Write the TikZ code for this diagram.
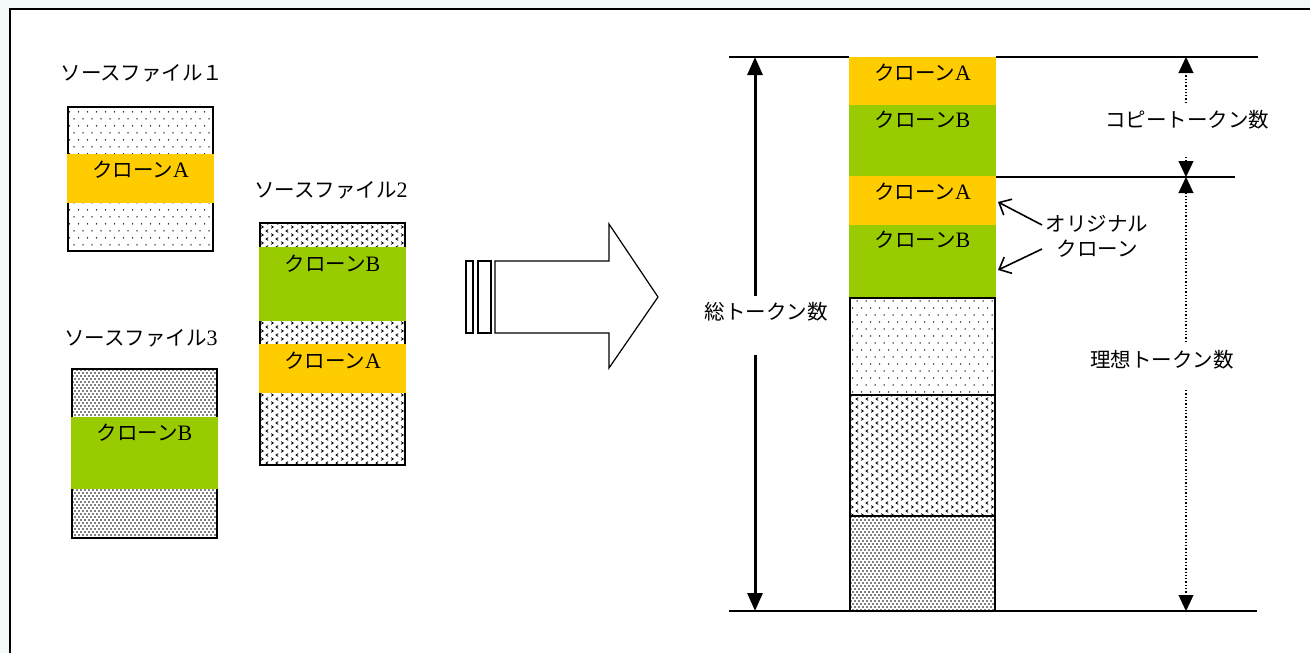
\documentclass[tikz,border=0pt]{standalone}
\usepackage{fontspec}
\setmainfont{Liberation Serif}
\newfontfamily\jp{Noto Sans CJK JP}
\usetikzlibrary{arrows.meta,patterns}
\definecolor{orangeA}{HTML}{FFCC00}
\definecolor{greenB}{HTML}{99CC00}
\definecolor{bgtint}{HTML}{F4F9F9}
\newcommand\ltr[1]{{\fontsize{22}{25}\selectfont #1}}
\pgfdeclarepatternformonly{sparsedots}{\pgfqpoint{-1pt}{-1pt}}{\pgfqpoint{10pt}{15pt}}{\pgfqpoint{9pt}{14pt}}{%
  \pgfpathcircle{\pgfqpoint{2pt}{2pt}}{0.75pt}%
  \pgfpathcircle{\pgfqpoint{6.5pt}{9pt}}{0.75pt}%
  \pgfusepath{fill}}
\pgfdeclarepatternformonly{densedots}{\pgfqpoint{-1pt}{-1pt}}{\pgfqpoint{5pt}{7pt}}{\pgfqpoint{4pt}{6pt}}{%
  \pgfpathcircle{\pgfqpoint{1pt}{1pt}}{0.85pt}%
  \pgfpathcircle{\pgfqpoint{3pt}{4pt}}{0.85pt}%
  \pgfusepath{fill}}
\pgfdeclarepatternformonly{chevrons}{\pgfqpoint{-1pt}{-1pt}}{\pgfqpoint{11pt}{9pt}}{\pgfqpoint{10pt}{8pt}}{%
  \pgfsetlinewidth{0.8pt}%
  \pgfpathmoveto{\pgfqpoint{1pt}{0.6pt}}\pgfpathlineto{\pgfqpoint{3.2pt}{2pt}}\pgfpathlineto{\pgfqpoint{1pt}{3.4pt}}%
  \pgfpathmoveto{\pgfqpoint{8.2pt}{4.6pt}}\pgfpathlineto{\pgfqpoint{6pt}{6pt}}\pgfpathlineto{\pgfqpoint{8.2pt}{7.4pt}}%
  \pgfusepath{stroke}}
\tikzset{
  filebox/.style={draw, line width=1.6pt, inner sep=0pt, outer sep=0pt, anchor=north west},
  band/.style={inner sep=0pt, outer sep=0pt, anchor=north west},
  lbl/.style={font=\fontsize{20.5}{25}\selectfont, inner sep=0pt},
  dimline/.style={line width=1.6pt},
  bigarrow/.style={line width=3pt, -{Triangle[width=15pt,length=18pt]}},
  dotline/.style={dotted, line width=1.3pt},
  tipsolid/.style={solid, line width=0.2pt, -{Triangle[width=15pt,length=16pt]}},
  openarrow/.style={line width=1.6pt, -{Straight Barb[length=10pt,width=18pt]}},
  outline/.style={line width=1.2pt}
}
\begin{document}
\begin{tikzpicture}[x=1pt,y=-1pt]
\useasboundingbox (0,0) rectangle (1310,653);
\fill[bgtint] (0,0) rectangle (1310,653);
\fill[white] (10,9) rectangle (1310,653);
\draw[line width=2pt] (1310,9) -- (10,9) -- (10,653);

% source file 1
\node[lbl] (l1) at (142,73) {\jp ソースファイル１};
\node[filebox, pattern=sparsedots, minimum width=145pt, minimum height=144pt] (f1) at (68,107) {};
\node[band, fill=orangeA, minimum width=147pt, minimum height=49pt] (f1a) at (67,154) {};
\node[lbl] (f1at) at ([yshift=-16pt]f1a.north) {{\jp クローン}\ltr{A}};

% source file 2
\node[lbl] (l2) at (331,190) {{\jp ソースファイル}\ltr{2}};
\node[filebox, pattern=chevrons, minimum width=145pt, minimum height=242pt] (f2) at (260,223) {};
\node[band, fill=greenB, minimum width=147pt, minimum height=74pt] (f2b) at (259,247) {};
\node[lbl] (f2bt) at ([yshift=-17pt]f2b.north) {{\jp クローン}\ltr{B}};
\node[band, fill=orangeA, minimum width=147pt, minimum height=49pt] (f2a) at (259,344) {};
\node[lbl] (f2at) at ([yshift=-17pt]f2a.north) {{\jp クローン}\ltr{A}};

% source file 3
\node[lbl] (l3) at (141,338) {{\jp ソースファイル}\ltr{3}};
\node[filebox, pattern=densedots, minimum width=145pt, minimum height=169pt] (f3) at (72,369) {};
\node[band, fill=greenB, minimum width=147pt, minimum height=72pt] (f3b) at (71,417) {};
\node[lbl] (f3bt) at ([yshift=-16pt]f3b.north) {{\jp クローン}\ltr{B}};

% big hollow arrow
\draw[outline] (466,261) rectangle (473,333);
\draw[outline] (478,261) rectangle (491,333);
\draw[outline] (495,261) -- (609,261) -- (609,224) -- (658,297) -- (609,368) -- (609,333) -- (495,333) -- cycle;

% horizontal dimension lines
\coordinate (tl) at (729,57);
\coordinate (tc) at (849,57);
\coordinate (tcr) at (996,57);
\coordinate (tr) at (1258,57);
\coordinate (ml) at (996,177);
\coordinate (mr) at (1235,177);
\coordinate (bl) at (729,611);
\coordinate (br) at (1257,611);
\draw[dimline] (tl) -- (tc);
\draw[dimline] (tcr) -- (tr);
\draw[dimline] (ml) -- (mr);
\draw[dimline] (bl) -- (br);

% column
\node[band, fill=orangeA, minimum width=147pt, minimum height=48pt] (c1) at (849,57) {};
\node[lbl] (c1t) at ([yshift=-16pt]c1.north) {{\jp クローン}\ltr{A}};
\node[band, fill=greenB, minimum width=147pt, minimum height=71pt] (c2) at (849,105) {};
\node[lbl] (c2t) at ([yshift=-15pt]c2.north) {{\jp クローン}\ltr{B}};
\node[band, fill=orangeA, minimum width=147pt, minimum height=49pt] (c3) at (849,176) {};
\node[lbl] (c3t) at ([yshift=-16pt]c3.north) {{\jp クローン}\ltr{A}};
\node[band, fill=greenB, minimum width=147pt, minimum height=73pt] (c4) at (849,225) {};
\node[lbl] (c4t) at ([yshift=-15pt]c4.north) {{\jp クローン}\ltr{B}};
\node[filebox, pattern=sparsedots, minimum width=145pt, minimum height=97pt] (c5) at (850,298) {};
\node[filebox, pattern=chevrons, minimum width=145pt, minimum height=121pt] (c6) at (850,395) {};
\node[filebox, pattern=densedots, minimum width=145pt, minimum height=95pt] (c7) at (850,516) {};

% total tokens
\node[lbl] (tot) at (766,312) {\jp 総トークン数};
\coordinate (totu) at (755,296);
\coordinate (totd) at (755,355);
\coordinate (tott) at (755,57);
\coordinate (totb) at (755,611);
\draw[bigarrow] (totu) -- (tott);
\draw[bigarrow] (totd) -- (totb);

% copy / ideal tokens
\node[lbl] (copy) at (1187,120) {\jp コピートークン数};
\node[lbl] (ideal) at (1162,360) {\jp 理想トークン数};
\coordinate (d0) at (1186,57);
\coordinate (d0b) at (1186,70);
\coordinate (d1) at (1186,103);
\coordinate (d2) at (1186,157);
\coordinate (d2b) at (1186,164);
\coordinate (d3) at (1186,177);
\coordinate (d3b) at (1186,190);
\coordinate (d4) at (1186,342);
\coordinate (d5) at (1186,390);
\coordinate (d6b) at (1186,598);
\coordinate (d6) at (1186,611);
\draw[dotline] (d1) -- (d0b);
\draw[tipsolid] (d0b) -- (d0);
\draw[dotline] (d2) -- (d2b);
\draw[tipsolid] (d2b) -- (d3);
\draw[dotline] (d4) -- (d3b);
\draw[tipsolid] (d3b) -- (d3);
\draw[dotline] (d5) -- (d6b);
\draw[tipsolid] (d6b) -- (d6);

% original clone
\node[lbl, align=center] (orig) at (1097,236) {\jp オリジナル\\\jp クローン};
\coordinate (o1s) at (1042,225);
\coordinate (o1e) at (998,202);
\coordinate (o2s) at (1042,249);
\coordinate (o2e) at (998,270);
\draw[openarrow] (o1s) -- (o1e);
\draw[openarrow] (o2s) -- (o2e);
\end{tikzpicture}
\end{document}
